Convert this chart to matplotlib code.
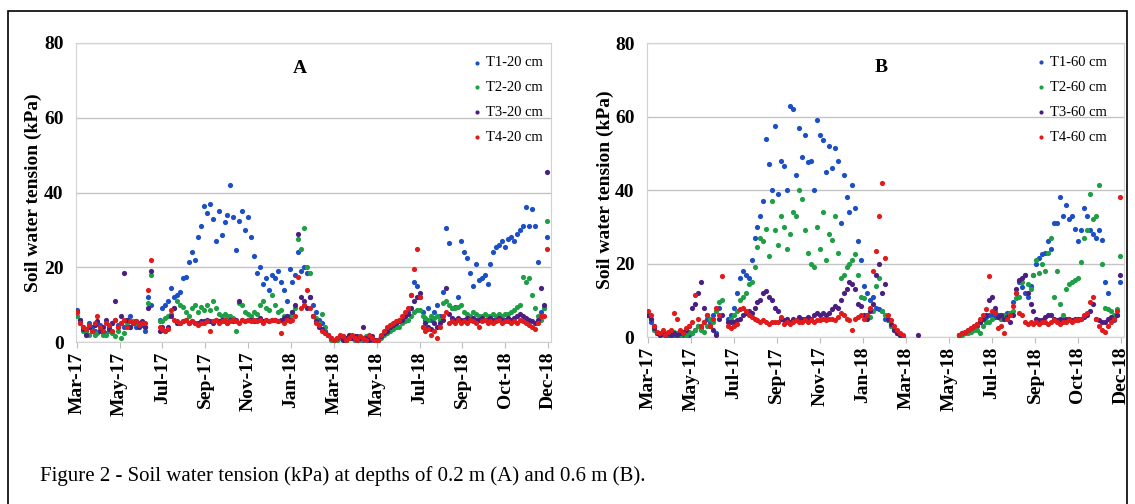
import numpy as np
import matplotlib
matplotlib.use('Agg')
import matplotlib.pyplot as plt
from matplotlib.patches import Rectangle

plt.rcParams['font.family'] = ['Liberation Serif', 'DejaVu Serif']

N = None  # no reading

# readings every 4 days, counted from the first day of the record (Mar-17)
days = np.arange(0, 640, 4)

tick_days = [0, 58, 116, 174, 232, 290, 348, 406, 464, 522, 580, 638]
tick_labels = ['Mar-17', 'May-17', 'Jul-17', 'Sep-17', 'Nov-17', 'Jan-18',
               'Mar-18', 'May-18', 'Jul-18', 'Sep-18', 'Oct-18', 'Dec-18']

labels_a = ['T1-20 cm', 'T2-20 cm', 'T3-20 cm', 'T4-20 cm']
labels_b = ['T1-60 cm', 'T2-60 cm', 'T3-60 cm', 'T4-60 cm']
colors = ['#1c4fc6', '#1e9f45', '#4a1f80', '#e11b1b']

# ---- panel A, 0.2 m (kPa)
a_t1 = [8.5, 6, 4, 3, 5, 4, 3, 5, 4.5, 3, 2.5, 4, 5, 6, 4.5,
        5, 4, 6, 7, 5, 4, 5, 4.5, 3, 12, 10, N, N, 6,
        9, 10, 11, 14.5, 12, 12.5, 13.5, 17, 17.5, 21.5, 24, 22, 28, 31, 36.5,
        34.5, 37, 33, 27, 35, 28.5, 32, 34, 42, 33.5, 24.5, 32.5, 35, 30, 33.5,
        28, 23, 18.5, 20, 15.5, 17, 14, 18, 17, 19, 16, 14, 11, 19.5,
        16, 18, 24, 19, 20, 18.5, 12, 10, 8, 6, 5, 3, 2, 1, 0.5,
        0.5, 1, 1.5, 0.5, 1, 1, 0.5, 1.5, 1, 0.5, 1, 1.5, 0.5, 0,
        0.5, 1.5, 2.5, 3.5, 4, 4.5, 5, 5.5, 6, 7, 8, 12.5, 16, 15, 12,
        8, 6, 9, 6, 8, 10, 7, 13.5, 30.5, 26.5, 9, 9.5, 12, 27,
        24, 22.5, 18.5, 15, 21, 16.5, 17, 18, 15.5, 21, 24, 25.5, 26, 27, 25.5,
        27.5, 28, 27, 29, 30, 31, 36, 31, 35.5, 31, 21.5, 8, 9, 28]
a_t2 = [7, 5, 3, 2.5, 2, 3, 2, 2.5, 3.5, 2, 2, 3, 2.5, 1.5, 3,
        1, 2.5, 5, 4, 5.5, 5, 4.5, 5, 4, 10.5, 18, N, N, 5.5,
        5.5, 6.5, 7, 7.5, 9, 11, 10, 9.5, 8, 7, 9, 10, 8, 9.5, 8.5,
        10, 8.5, 11, 9, 7.5, 7, 7.5, 7, 7, 6.5, 3, 10.5, 10, 8, 7.5,
        7, 8, 7.5, 10, 11, 9, 8.5, 12.5, 10, 8, 8.5, 7, 6, 7,
        8, 9, 27.5, 25, 30.5, 20, 18.5, 7, 6.5, 5, 7.5, 4, 2, 0.5, 0,
        0.5, 1, 0.5, 0, 1, 1.5, 0.5, 1, 0.5, 1, 1.5, 0.5, 1, 0,
        0.5, 1, 2, 2.5, 3, 3.5, 4, 4, 5, 5.5, 6, 7, 8, 8.5, 8.5,
        7, 6.5, 6, 7, 6.5, 7, 6, 10.5, 11, 10, 9, 9, 9.5, 10,
        8, 7.5, 7, 8, 7.5, 7, 7, 7.5, 7, 7, 7.5, 7, 7.5, 7, 7.5,
        7.5, 8, 8.5, 9.5, 10, 17.5, 16, 17, 12.5, 9, 7, 6, 9, 32.5]
a_t3 = [8, 6, 3.5, 2, 4, 3, 4.5, 5.5, 3, 4, 6, 3.5, 5, 11, 4,
        7, 18.5, 6, 4, 5, 5.5, 4, 5.5, 4, 9, 19, N, N, 3,
        4, 3, 4, 7, 9, 5, 5, 5.5, 6, 5, 5.5, 5, 5, 5.5, 5.5,
        6, 5.5, 5, 6, 5.5, 6, 5.5, 5, 6, 5.5, 6, 11, 6, 5.5, 6,
        6, 5.5, 6, 6.5, 5.5, 6, 5.5, 6, 6, 5.5, 6, 6.5, 7, 6,
        8, 10, 29, 12, 11, 9, 12, 7, 5.5, 4, 3.5, 2.5, 2, 1, 0.5,
        1, 1.5, 0.5, 1, 2, 1, 1.5, 0.5, 1, 4, 1, 0.5, 1.5, 0.5,
        0.5, 1.5, 2.5, 3, 4, 4.5, 5, 5.5, 6, 7, 7.5, 9, 11, 12, 13,
        4, 5, 4, 3.5, 5, 4, 5, 6, 14.5, 7.5, 6.5, 6, 6.5, 6,
        6, 6.5, 6, 6.5, 6, 6, 6.5, 6, 6, 6.5, 6, 6, 6.5, 6, 6,
        6.5, 6, 6.5, 7, 7.5, 7, 6.5, 6, 5.5, 5, 6, 14.5, 10, 45.5]
a_t4 = [8, 5, 4, 3.5, 4.5, 3, 5, 7, 4, 3, 5, 4.5, 3, 6, 4,
        5, 6, 4, 5.5, 5, 5.5, 4.5, 5, 5, 14, 22, N, N, 4,
        3.5, 3, 3.5, 8.5, 6, 5.5, 5, 5.5, 6, 5, 5.5, 5, 4.5, 5, 5,
        5.5, 3, 5.5, 6, 5, 5.5, 6, 5, 5.5, 6, 5.5, 5, 6, 5.5, 6,
        5.5, 6, 5.5, 6, 5, 6, 5.5, 6, 6, 5.5, 2.5, 5, 6, 5.5,
        6, 7, 17.5, 9, 10, 14, 9, 7, 5, 4.5, 3, 2.5, 2, 1, 0.5,
        1, 2, 1.5, 0.5, 1, 2, 1, 0.5, 1.5, 1, 0.5, 2, 1, 0.3,
        0.5, 2, 3, 4, 4.5, 5, 5.5, 6, 7, 8, 9, 12.5, 19.5, 25, 12,
        4, 3, 3.5, 2, 3, 1, 4, 7, 8, 5, 5.5, 5, 6, 5,
        5.5, 5, 6, 5.5, 5, 4, 5.5, 6, 5, 5.5, 5, 5.5, 6, 5, 5.5,
        5.5, 5, 5.5, 5, 6, 5.5, 5, 4.5, 4, 3.5, 5, 7, 7, 25]

# ---- panel B, 0.6 m (kPa)
b_t1 = [6, 4, 3, 1, 0.5, 1, 0.5, 0.5, 1, 0.5, 1, 0.5, 0.5, 1, 0.5,
        1, 2, 3, 2.5, 4, 5, 4, 6, 1, 8, N, N, 5, 6,
        8, 12, 16, 18, 17, 16, 21, 27, 30, 33, 37, 54, 47, 40, 57.5,
        39, 48, 46.5, 40, 63, 62, 44, 57, 49, 55, 47.5, 48, 40, 59, 55,
        53.5, 45, 52, 46, 51.5, 48, 31, 44, 38, 34, 41.5, 35, 26, 21,
        14, 12, 10, 11, 8, 7.5, 7, 5, 4.5, 3, 2, 1, 0.5, 0, N,
        N, N, N, N, N, N, N, N, N, N, N, N, N, N,
        N, N, N, 0.5, 1, 1, 1.5, 2, 2.5, 3, 4, 5, 5.5, 6, 6,
        5.5, 6, 5, 5.5, 6.5, 6.5, 9.5, 12, 15, 13.5, 12, 11, 14, 17,
        20, 21.5, 22.5, 23, 26, 24, 31, 31, 38, 33, 36, 32, 33, 29.5, 26,
        29, 35, 33, 29, 28, 27, 29, 26.5, 15, 12, 5, 4.5, 6, 15]
b_t2 = [6, 5, 2, 1, 0.5, 1, 0.5, 1, 0.5, 1.5, 1, 0.5, 1, 0.5, 1.5,
        1, 2, 3, 2, 1.5, 3, 5, 4, 7, 9.5, 10, N, N, 5,
        6, 7, 10, 11, 12, 14.5, 15, 19, 24.5, 27, 26, 29.5, 22, 37, 29,
        25, 33, 30, 24, 28, 34, 33, 40, 37.5, 29, 23, 20, 19, 30, 24,
        34, 21, 28, 26.5, 33, 23, 16, 17, 19, 20, 21, 22.5, 17, 11,
        10.5, 6, 5.5, 7, 14, 16, 7, 6, 4.5, 3, 2, 1, 0.5, N, N,
        N, N, N, N, N, N, N, N, N, N, N, N, N, N,
        N, N, N, 0.5, 0.5, 1, 1, 1.5, 2, 2, 1, 3, 4, 4, 5,
        7, 5.5, 5, 6, 5.5, 6.5, 7, 10.5, 11, 15, 17, 14.5, 13, 17,
        21, 17.5, 20, 18, 23, 27, 11, 18, 9, 6, 13, 14.5, 15, 15.5, 16,
        20.5, 27, 29, 39, 32, 33, 41.5, 20, 8, 7.5, 7, 6, 7.5, 22]
b_t3 = [6, 5, 2.5, 1, 0.5, 1, 0.5, 1, 0.5, 1, 0.5, 1, 1.5, 2, 3,
        8, 9, 12, 15, 8, 6, 3, 2, 0.5, 5, 6, N, 4, 4,
        4, 4.5, 5, 6, 6.5, 7, 6.5, 8, 9.5, 10, 12, 12.5, 11, 10, 8,
        7, 5, 4.5, 5, 4, 5, 4.5, 5.5, 5, 5, 5.5, 5, 6, 6.5, 6,
        6.5, 6, 6.5, 7.5, 8.5, 8, 10, 12, 13, 15, 14.5, 13, 9, 8.5,
        6, 5, 7, 9, 17, 20, 12, 14.5, 5, 3.5, 2, 1, 0.5, N, N,
        N, N, N, 0.5, N, N, N, N, N, N, N, N, N, N,
        N, N, N, 0.5, 1, 1.5, 2, 2.5, 3, 3.5, 4, 5, 6, 10, 11,
        8, 5.5, 6, 5, 5.5, 4, 6, 13, 15.5, 16, 17, 12, 9, 7,
        5, 4.5, 4.5, 5.5, 6, 6, 5, 4.5, 5, 4.5, 5, 5, 4.5, 5, 5,
        5, 5.5, 6, 7, 9, 5, 4.5, 4, 4, 5, 5.5, 5, 6, 17]
b_t4 = [7, 6, 3, 1.5, 1, 2, 0.5, 1.5, 2, 6.5, 5, 2, 1, 2.5, 3,
        4, 11.5, 5, 3, 4, 6, 3, 5, 8, 6, 16.5, N, 3, 2.5,
        3, 3.5, 7.5, 8, 7, 6, 5.5, 5, 4.5, 4, 4.5, 4, 3.5, 4, 4,
        4, 5.5, 3.5, 4, 3.5, 4, 4.5, 4, 4, 4.5, 4, 4.5, 4, 4.5, 4.5,
        5, 4.5, 5, 5, 4.5, 5.5, 6.5, 6, 5, 4.5, 2, 5, 5.5, 6,
        5, 6, 8, 18, 23.5, 33, 42, 21.5, 6, 4.5, 3, 2, 1, 0.5, N,
        N, N, N, N, N, N, N, N, N, N, N, N, N, N,
        N, N, N, 0.5, 1, 1.5, 2, 2.5, 3, 3.5, 5, 6, 7.5, 16.5, 7,
        6.5, 2.5, 3, 1, 5, 6, 8.5, 12, 6.5, 6, 4, 3.5, 4, 3.5,
        4, 3.5, 4, 4, 3.5, 4, 4.5, 4, 3.5, 4, 4, 4.5, 4, 4.5, 4.5,
        5, 6, 6.5, 9.5, 11, 5, 3, 2, 1.5, 3, 4, 5, 7, 38]

caption = 'Figure 2 - Soil water tension (kPa) at depths of 0.2 m (A) and 0.6 m (B).'


def draw_panel(ax, series, labels, letter, letter_x, leg_anchor, ylab_x):
    for vals, col, lab in zip(series, colors, labels):
        assert len(vals) == len(days), (lab, len(vals))
        ax.scatter(days, np.array(vals, dtype=float), s=14, color=col,
                   linewidths=0, label=lab, zorder=3)
    ax.set_xlim(-1, 642)
    ax.set_ylim(0, 80)
    ax.set_yticks([0, 20, 40, 60, 80])
    ax.yaxis.grid(True, color='#c4c4c4', lw=1)
    ax.set_axisbelow(True)
    ax.set_xticks(tick_days)
    ax.set_xticklabels(tick_labels, rotation=90, fontsize=14, fontweight='bold')
    for t in ax.get_yticklabels():
        t.set_fontweight('bold')
    ax.tick_params(axis='x', direction='out', length=4, color='#bdbdbd', pad=3)
    ax.tick_params(axis='y', length=0, pad=9, labelsize=14)
    for sp in ax.spines.values():
        sp.set_color('#d2d2d2')
    ax.set_ylabel('Soil water tension (kPa)', fontsize=14, fontweight='bold')
    ax.yaxis.set_label_coords(ylab_x, 0.5)
    ax.text(letter_x, 0.916, letter, transform=ax.transAxes, fontsize=14,
            fontweight='bold', ha='center', va='center')
    ax.legend(loc='upper right', bbox_to_anchor=leg_anchor, frameon=False,
              fontsize=10.5, handletextpad=0.2, handlelength=0.8,
              labelspacing=0.8, borderpad=0, borderaxespad=0, markerscale=0.8)


fig = plt.figure(figsize=(11.35, 5.04), dpi=100)
ax_a = fig.add_axes([0.0670, 0.3214, 0.4185, 0.5933])
ax_b = fig.add_axes([0.5700, 0.3313, 0.4203, 0.5833])

draw_panel(ax_a, [a_t1, a_t2, a_t3, a_t4], labels_a, 'A', 0.472, (0.983, 0.956), -0.072)
draw_panel(ax_b, [b_t1, b_t2, b_t3, b_t4], labels_b, 'B', 0.49, (0.964, 0.956), -0.069)

fig.text(40 / 1135, 23 / 504, caption, fontsize=15, va='baseline')
fig.patches.append(Rectangle((8 / 1135, -0.05), 1119 / 1135, 1.028, transform=fig.transFigure,
                             fill=False, ec='black', lw=1.2))

fig.savefig('out.png', dpi=100)
